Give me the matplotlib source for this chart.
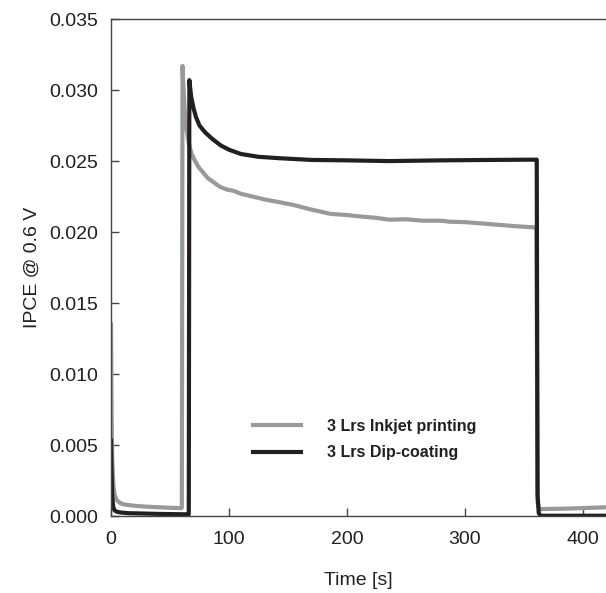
import matplotlib
matplotlib.use('Agg')
import matplotlib.pyplot as plt

# 3 Lrs Inkjet printing (gray)
t_ink = [0, 0.5, 1, 2, 3, 5, 8, 12, 20, 30, 40, 50, 58, 59.6, 60.0, 60.6,
         61.5, 62.5, 64, 66, 68, 70, 74, 78, 82, 87, 92, 98, 104, 110, 120,
         130, 143, 155, 169, 186, 200, 211, 225, 236, 250, 265, 280, 287, 300,
         315, 330, 345, 359, 360.5, 361.5, 363, 370, 385, 400, 420]
ipce_ink = [0.0135, 0.0070, 0.0040, 0.0022, 0.0015, 0.0011, 0.0009, 0.0008,
            0.00072, 0.00066, 0.00062, 0.00058, 0.00056, 0.00055, 0.0006, 0.0317,
            0.0300, 0.0285, 0.0273, 0.0262, 0.0256, 0.0252, 0.0246, 0.0242,
            0.0238, 0.0235, 0.0232, 0.0230, 0.0229, 0.0227, 0.0225, 0.0223,
            0.0221, 0.0219, 0.0216, 0.02128, 0.0212, 0.0211, 0.0210, 0.02087,
            0.0209, 0.0208, 0.0208, 0.02073, 0.0207, 0.0206, 0.0205, 0.0204,
            0.02033, 0.0203, 0.0010, 0.00048, 0.0005, 0.00052, 0.00056, 0.00062]

# 3 Lrs Dip-coating (black)
t_dip = [0, 0.5, 1, 1.5, 2, 3, 5, 8, 15, 25, 40, 55, 64, 65.9, 66.4, 67, 68,
         70, 72, 75, 80, 86, 93, 100, 110, 125, 143, 170, 200, 236, 280, 320,
         360, 360.8, 361.5, 362.5, 364, 366, 380, 400, 420]
ipce_dip = [0.0053, 0.0030, 0.0015, 0.0009, 0.0006, 0.0004, 0.0003, 0.00025,
            0.0002, 0.00018, 0.00015, 0.00013, 0.00012, 0.00012, 0.0307, 0.0302,
            0.0295, 0.0287, 0.0281, 0.0275, 0.0270, 0.02655, 0.0261, 0.0258,
            0.0255, 0.0253, 0.0252, 0.02508, 0.02505, 0.0250, 0.02505, 0.02508,
            0.0251, 0.0251, 0.0015, 0.0002, 0.00003, 0.00002, 0.00002, 0.00002,
            0.00002]

x_ticks = [0, 100, 200, 300, 400]
y_ticks = [0.000, 0.005, 0.010, 0.015, 0.020, 0.025, 0.030, 0.035]

plt.rcParams['font.family'] = ['Liberation Sans', 'DejaVu Sans']

fig = plt.figure(figsize=(6.06, 5.93), dpi=100)
ax = fig.add_axes([0.1832, 0.1298, 0.8168, 0.838])

ax.plot(t_ink, ipce_ink, color='#98999d', lw=3, label='3 Lrs Inkjet printing')
ax.plot(t_dip, ipce_dip, color='#231f20', lw=3, label='3 Lrs Dip-coating')

ax.set_xlim(0, 419.5)
ax.set_ylim(0, 0.035)
ax.set_xticks(x_ticks)
ax.set_yticks(y_ticks)
ax.set_yticklabels(['%.3f' % v for v in y_ticks])

for s in ['left', 'bottom', 'top']:
    ax.spines[s].set_color('#444444')
    ax.spines[s].set_linewidth(1.0)
ax.spines['right'].set_visible(False)

ax.tick_params(axis='both', direction='in', length=6, width=1, color='#444444',
               labelsize=14, labelcolor='#231f20')
ax.tick_params(axis='x', pad=11)
ax.tick_params(axis='y', pad=9)

ax.set_xlabel('Time [s]', fontsize=14, color='#231f20')
ax.set_ylabel('IPCE @ 0.6 V', fontsize=14, color='#231f20')
ax.xaxis.set_label_coords(0.5, -0.112)
ax.yaxis.set_label_coords(-0.142, 0.5)

leg = ax.legend(loc='upper left', bbox_to_anchor=(0.287, 0.196), frameon=False,
                borderpad=0, borderaxespad=0, handlelength=3.0, handletextpad=1.6,
                labelspacing=0.72, prop={'weight': 'bold', 'size': 11.5})
for txt in leg.get_texts():
    txt.set_color('#231f20')

fig.savefig('out.png', dpi=100)
